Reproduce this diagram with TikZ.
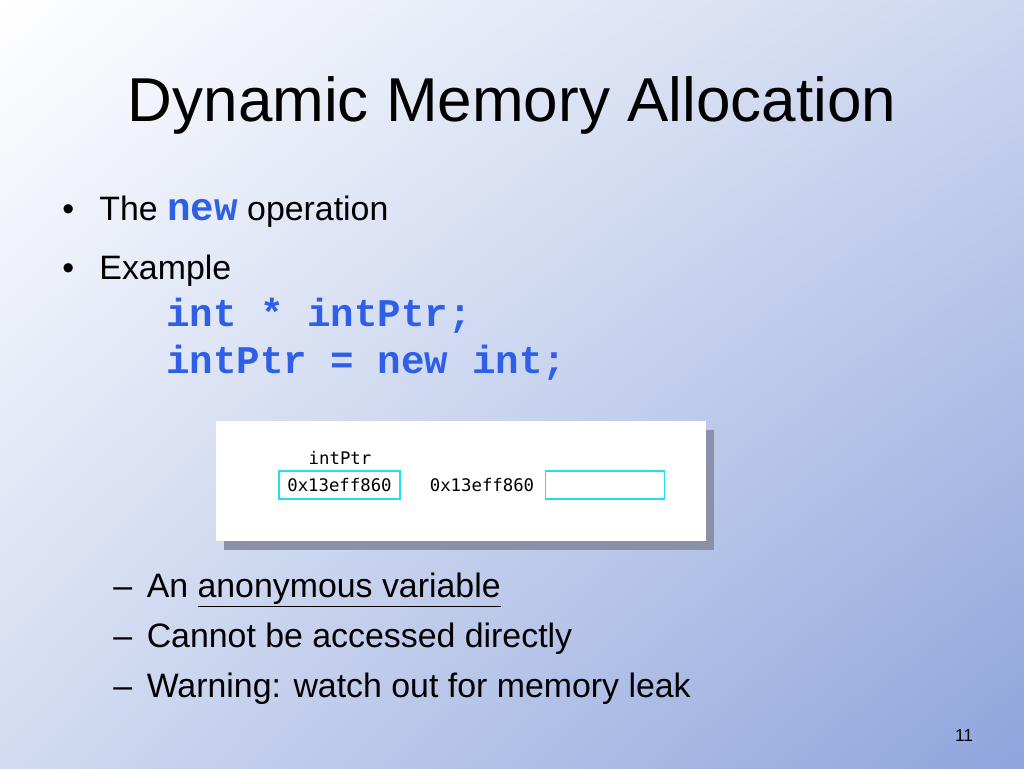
\documentclass[tikz,border=0pt]{standalone}
\usetikzlibrary{shadings}
\usepackage{fontspec}
\setmainfont{Liberation Sans}
\setmonofont{Liberation Mono}
\newfontfamily\dejamono{DejaVu Sans Mono}
\definecolor{codeblue}{HTML}{2E5FE6}
\definecolor{bgblue}{HTML}{8EA4DC}
\definecolor{cellcyan}{HTML}{22E0E8}
\definecolor{shadowc}{HTML}{8A90A8}
\begin{document}
\begin{tikzpicture}[x=0.75pt,y=-0.75pt,
  txt/.style={anchor=base west,inner sep=0pt,font=\fontsize{25.4}{30}\selectfont},
  code/.style={anchor=base west,inner sep=0pt,font=\fontsize{29.4}{34}\selectfont\ttfamily\bfseries,text=codeblue},
  cell/.style={draw=cellcyan,line width=1.2pt,minimum height=27.5*0.75pt,inner sep=0pt}]
\useasboundingbox (0,0) rectangle (1024,768);
\shade[upper left=white,upper right=bgblue!45!white,lower left=bgblue!40!white,lower right=bgblue] (0,0) rectangle (1024,768);
\node[anchor=base,inner sep=0pt,font=\fontsize{46.5}{54}\selectfont] (title) at (512,121) {Dynamic Memory Allocation};
\node[txt] (b1) at (62,220) {•\hspace{19pt}The {\fontsize{29.4}{34}\selectfont\ttfamily\bfseries\color{codeblue}new} operation};
\node[txt] (b2) at (62,279) {•\hspace{19pt}Example};
\node[code] (c1) at (166,326) {int * intPtr;};
\node[code] (c2) at (166,373) {intPtr = new int;};
% figure
\fill[shadowc] (224,430) rectangle (714,550);
\fill[white] (216,421) rectangle (706,541);
\node[anchor=base,inner sep=0pt,font=\fontsize{13}{15}\selectfont\dejamono] (lab) at (340,464) {intPtr};
\node[cell,minimum width=121*0.75pt,font=\fontsize{13}{15}\selectfont\dejamono] (p) at (339.5,485) {0x13eff860};
\node[anchor=center,inner sep=0pt,font=\fontsize{13}{15}\selectfont\dejamono] (addr) at (482,485) {0x13eff860};
\node[cell,minimum width=119*0.75pt] (v) at (605,485) {};
\node[txt] (s1) at (113,597) {–\hspace{11pt}An \underline{anonymous variable}};
\node[txt] (s2) at (113,647) {–\hspace{11pt}Cannot be accessed directly};
\node[txt] (s3) at (113,697) {–\hspace{11pt}Warning: watch out for memory leak};
\node[anchor=base,inner sep=0pt,font=\fontsize{13}{15}\selectfont] (pg) at (964,741) {11};
\end{tikzpicture}
\end{document}
